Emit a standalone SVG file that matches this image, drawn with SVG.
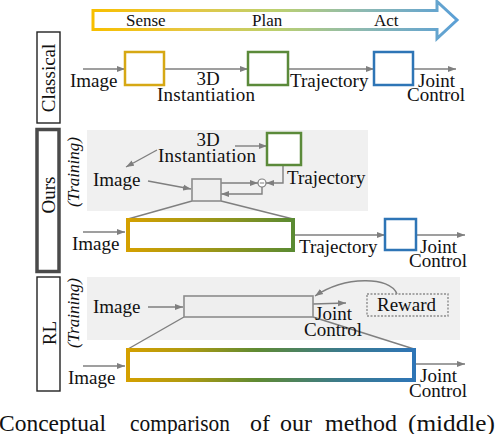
<svg xmlns="http://www.w3.org/2000/svg" width="496" height="434" viewBox="0 0 496 434" font-family="'Liberation Serif', 'DejaVu Serif', 'Times New Roman', serif">
<defs>
<style>
text{font-family:'Liberation Serif','DejaVu Serif','Times New Roman',serif;font-size:19px;fill:#111}
.top{font-size:17px}
.it{font-style:italic;font-size:17px}
.cap{font-size:22.5px}
.ln{stroke:#7f7f7f;stroke-width:1.4;fill:none}
.arr{stroke:#7f7f7f;stroke-width:1.4;fill:none;marker-end:url(#ah)}
.lbl{fill:#fff;stroke:#222;stroke-width:1.4}
.gbox{fill:#eeeeee;stroke:#8c8c8c;stroke-width:1.6}
.panel{fill:#f0f0f0;stroke:none}
</style>
<marker id="ah" markerUnits="userSpaceOnUse" markerWidth="9" markerHeight="7" refX="8" refY="3.5" orient="auto">
<path d="M0,0.5 L8,3.5 L0,6.5 z" fill="#7f7f7f"/>
</marker>
<linearGradient id="gTop" gradientUnits="userSpaceOnUse" x1="93" y1="0" x2="458" y2="0">
<stop offset="0" stop-color="#f7bf00"/>
<stop offset="0.25" stop-color="#e8c640"/>
<stop offset="0.5" stop-color="#bcd06e"/>
<stop offset="0.75" stop-color="#8bb8b4"/>
<stop offset="1" stop-color="#5a9fd6"/>
</linearGradient>
<linearGradient id="gOurs" gradientUnits="userSpaceOnUse" x1="128" y1="0" x2="293" y2="0">
<stop offset="0" stop-color="#d4a000"/>
<stop offset="0.35" stop-color="#b09a10"/>
<stop offset="1" stop-color="#5a8a32"/>
</linearGradient>
<linearGradient id="gRL" gradientUnits="userSpaceOnUse" x1="128" y1="0" x2="414" y2="0">
<stop offset="0" stop-color="#d4a000"/>
<stop offset="0.2" stop-color="#b09a10"/>
<stop offset="0.45" stop-color="#5f8a32"/>
<stop offset="0.75" stop-color="#3a7a8e"/>
<stop offset="1" stop-color="#2e75b6"/>
</linearGradient>
</defs>

<g id="spa-arrow">
<path d="M93,10.5 H437 V1.5 L457,20 L437,38.5 V29.5 H93 Z" fill="#fff" stroke="url(#gTop)" stroke-width="3"/>
<text class="top" x="126" y="26">Sense</text>
<text class="top" x="252" y="26">Plan</text>
<text class="top" x="374" y="26">Act</text>
</g>

<g id="panels">
<rect class="panel" x="87" y="130" width="281" height="81"/>
<rect class="panel" x="87" y="277" width="373" height="63"/>
</g>

<g id="row-labels">
<rect class="lbl" x="37" y="32" width="23" height="91"/>
<text transform="translate(55,78) rotate(-90)" text-anchor="middle">Classical</text>
<rect x="37" y="129.5" width="22" height="142" fill="#fff" stroke="#4a4a4a" stroke-width="3.5"/>
<text transform="translate(55,195) rotate(-90)" text-anchor="middle">Ours</text>
<text class="it" transform="translate(79,172) rotate(-90)" text-anchor="middle">(Training)</text>
<rect class="lbl" x="37" y="277" width="23" height="114"/>
<text transform="translate(56,333) rotate(-90)" text-anchor="middle">RL</text>
<text class="it" transform="translate(79,313) rotate(-90)" text-anchor="middle">(Training)</text>
</g>

<g id="connectors">
<line class="arr" x1="83" y1="69" x2="125" y2="69"/>
<line class="arr" x1="164" y1="69" x2="248" y2="69"/>
<line class="arr" x1="288" y1="69" x2="374" y2="69"/>
<line class="arr" x1="413" y1="69" x2="456" y2="69"/>
<line class="arr" x1="157" y1="150" x2="126" y2="167"/>
<line class="arr" x1="235" y1="146" x2="267" y2="146"/>
<line class="arr" x1="148" y1="181" x2="191" y2="189"/>
<line class="arr" x1="221" y1="183" x2="258" y2="183"/>
<polyline class="arr" points="283,165 283,183 266,183"/>
<polyline class="arr" points="262,187 262,194 221,194"/>
<line class="ln" x1="192" y1="201" x2="128" y2="219"/>
<line class="ln" x1="221" y1="201" x2="293" y2="219"/>
<line class="arr" x1="83" y1="232" x2="125" y2="232"/>
<line class="arr" x1="293" y1="235" x2="385" y2="235"/>
<line class="arr" x1="416" y1="235" x2="465" y2="235"/>
<line class="arr" x1="148" y1="307" x2="183" y2="307"/>
<line class="arr" x1="313" y1="304" x2="346" y2="303"/>
<path class="arr" d="M397,294 C390,276 345,276 315,296"/>
<line class="ln" x1="184" y1="317" x2="128" y2="349"/>
<line class="ln" x1="313" y1="317" x2="414" y2="349"/>
<line class="arr" x1="83" y1="366" x2="125" y2="366"/>
<line class="arr" x1="414" y1="364" x2="465" y2="364"/>
</g>

<g id="classical-nodes">
<rect x="125" y="52" width="39" height="33" fill="#fff" stroke="#d6a814" stroke-width="2.5"/>
<rect x="248" y="52" width="40" height="33" fill="#fff" stroke="#5b8a3a" stroke-width="2.5"/>
<rect x="374" y="52" width="39" height="33" fill="#fff" stroke="#2e75b6" stroke-width="2.5"/>
<text x="70" y="87">Image</text>
<text x="208" y="85" text-anchor="middle">3D</text>
<text x="157" y="101" textLength="98" lengthAdjust="spacing">Instantiation</text>
<text x="290" y="87">Trajectory</text>
<text x="418" y="87">Joint</text>
<text x="407" y="101">Control</text>
</g>

<g id="ours-training">
<rect x="267" y="133" width="34" height="32" fill="#fff" stroke="#5b8a3a" stroke-width="2.5"/>
<rect class="gbox" x="192" y="179" width="29" height="22"/>
<g id="minus">
<circle cx="262" cy="183" r="4" fill="#fff" stroke="#7f7f7f" stroke-width="1.2"/>
<line x1="259.8" y1="183" x2="264.2" y2="183" stroke="#7f7f7f" stroke-width="1"/>
</g>
<text x="208" y="146" text-anchor="middle">3D</text>
<text x="158" y="162" textLength="98" lengthAdjust="spacing">Instantiation</text>
<text x="93" y="186">Image</text>
<text x="287" y="184">Trajectory</text>
</g>

<g id="ours-deploy">
<rect x="128" y="220" width="165" height="30" fill="#fff" stroke="url(#gOurs)" stroke-width="4"/>
<rect x="385" y="219" width="31" height="31" fill="#fff" stroke="#2e75b6" stroke-width="2.5"/>
<text x="72" y="250">Image</text>
<text x="299" y="253">Trajectory</text>
<text x="420" y="253">Joint</text>
<text x="409" y="267">Control</text>
</g>

<g id="rl-training">
<rect class="gbox" x="184" y="296" width="129" height="21"/>
<rect x="367" y="294" width="81" height="22" fill="#f0f0f0" stroke="#8c8c8c" stroke-width="1.4" stroke-dasharray="2,1.5"/>
<text x="93" y="313">Image</text>
<text x="315" y="320">Joint</text>
<text x="304" y="336">Control</text>
<text x="377" y="311">Reward</text>
</g>

<g id="rl-deploy">
<rect x="128" y="350" width="286" height="30" fill="#fff" stroke="url(#gRL)" stroke-width="4"/>
<text x="68" y="384">Image</text>
<text x="420" y="382">Joint</text>
<text x="409" y="397">Control</text>
</g>

<g id="caption">
<text class="cap" x="-1" y="431" textLength="107" lengthAdjust="spacingAndGlyphs">Conceptual</text>
<text class="cap" x="130" y="431" textLength="100" lengthAdjust="spacingAndGlyphs">comparison</text>
<text class="cap" x="250" y="431" textLength="20" lengthAdjust="spacingAndGlyphs">of</text>
<text class="cap" x="280" y="431" textLength="32" lengthAdjust="spacingAndGlyphs">our</text>
<text class="cap" x="325" y="431" textLength="72" lengthAdjust="spacingAndGlyphs">method</text>
<text class="cap" x="408" y="431" textLength="87" lengthAdjust="spacingAndGlyphs">(middle)</text>
</g>
</svg>
